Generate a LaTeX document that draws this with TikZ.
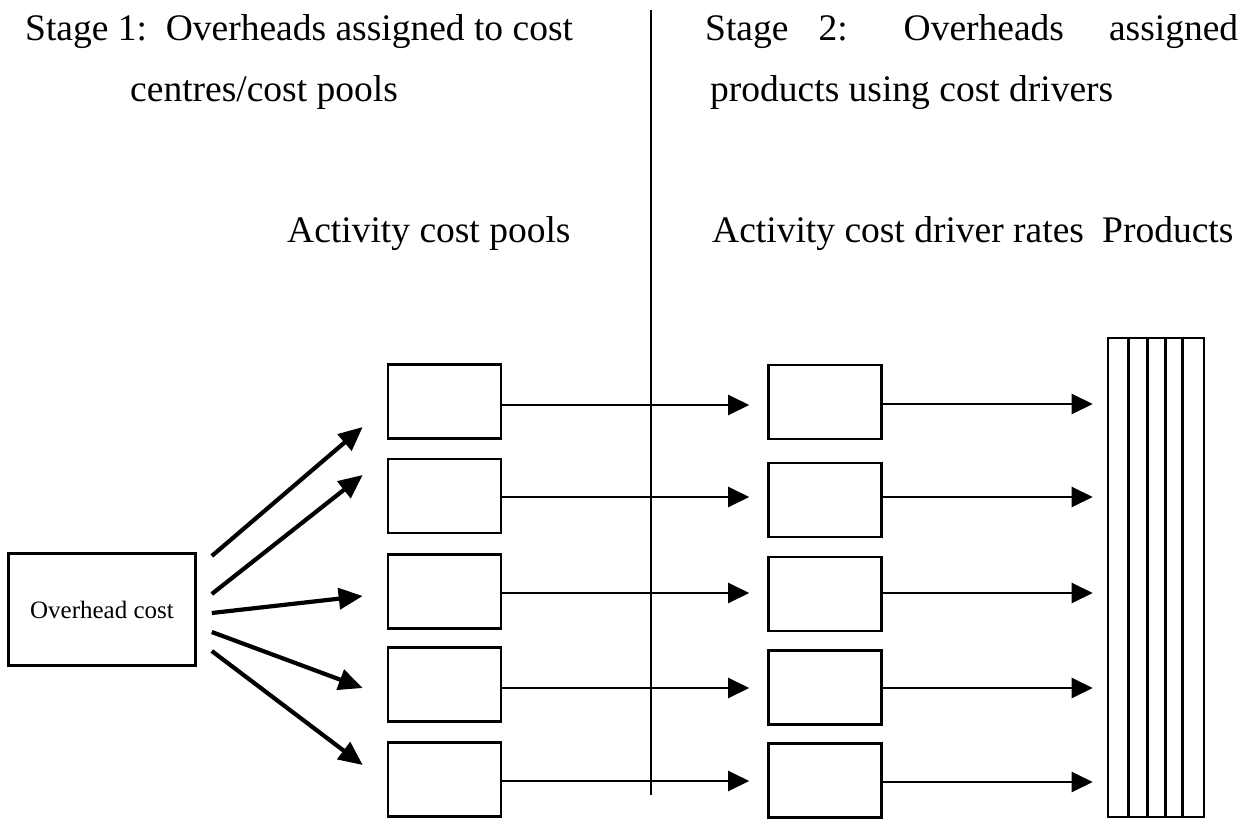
\documentclass[tikz,border=0pt]{standalone}
\usepackage{fontspec}
\setmainfont{Liberation Serif}
\usetikzlibrary{arrows.meta,calc}
\begin{document}
\begin{tikzpicture}[x=1pt,y=-1pt,
  box/.style={draw, line width=2.6pt, minimum width=113pt, minimum height=74pt, inner sep=0pt},
  heading/.style={font=\fontsize{37.5}{42}\selectfont, anchor=base west, inner sep=0pt},
  flow/.style={line width=2.4pt, -{Triangle[length=21pt,width=20pt]}},
  fan/.style={line width=4.2pt, -{Triangle[length=24pt,width=21pt]}},
]
\useasboundingbox (0,0) rectangle (1251,821);

% headings
\node[heading] (s1a) at (25,41) {Stage 1:\ \ Overheads assigned to cost};
\node[heading] (s1b) at (130,102) {centres/cost pools};
\node[heading] (s2a) at (705,41) {\makebox[533pt][l]{Stage\hspace{30pt}2:\hspace{56pt}Overheads\hfill assigned}};
\node[heading] (s2b) at (710,102) {products using cost drivers};
\node[heading] (poolslbl) at (287,243) {Activity cost pools};
\node[heading] (rateslbl) at (712,243) {Activity cost driver rates};
\node[heading] (prodlbl) at (1102,243) {Products};

% stage divider
\coordinate (dtop) at (651,10);
\coordinate (dbot) at (651,795);
\draw[line width=2.2pt] (dtop) -- (dbot);

% overhead cost
\node[box, minimum width=187pt, minimum height=112pt, font=\fontsize{25}{28}\selectfont] (oh) at (102,609.5) {Overhead cost};

% activity cost pools
\node[box] (p1) at (444.5,401.5) {};
\node[box] (p2) at (444.5,496) {};
\node[box] (p3) at (444.5,591.5) {};
\node[box] (p4) at (444.5,684.5) {};
\node[box] (p5) at (444.5,779.5) {};

% cost driver rates
\node[box] (r1) at (825,402) {};
\node[box] (r2) at (825,500) {};
\node[box] (r3) at (825,594) {};
\node[box] (r4) at (825,687.5) {};
\node[box] (r5) at (825,780.5) {};

% products
\node[draw, line width=2.6pt, minimum width=96pt, minimum height=479pt, inner sep=0pt] (prod) at (1156,577.5) {};
\foreach \dx in {22,41,59,76}
  \draw[line width=2.6pt] ($(prod.north west)+(\dx,0)$) -- ($(prod.south west)+(\dx,0)$);

% overhead spread to the pools
\draw[fan] ($(oh.east)+(15,-53.5)$) -- ($(p1.west)+(-24,25.5)$);
\draw[fan] ($(oh.east)+(15,-15.5)$) -- ($(p2.west)+(-24,-21)$);
\draw[fan] ($(oh.east)+(15,3.5)$) -- ($(p3.west)+(-24,4.5)$);
\draw[fan] ($(oh.east)+(15,22.5)$) -- ($(p4.west)+(-24,3.5)$);
\draw[fan] ($(oh.east)+(15,41.5)$) -- ($(p5.west)+(-24,-14.5)$);

% pools to driver rates
\foreach \i/\dy in {1/3.5,2/1,3/1.5,4/3.5,5/1.5}
  \draw[flow] ($(p\i.east)+(-2,\dy)$) -- ($(p\i.east -| r\i.west)+(-18,\dy)$);

% driver rates to products
\foreach \i/\dy in {1/2,2/-3,3/-1,4/0.5,5/1.5}
  \draw[flow] ($(r\i.east)+(-2,\dy)$) -- ($(r\i.east -| prod.west)+(-14,\dy)$);
\end{tikzpicture}
\end{document}
